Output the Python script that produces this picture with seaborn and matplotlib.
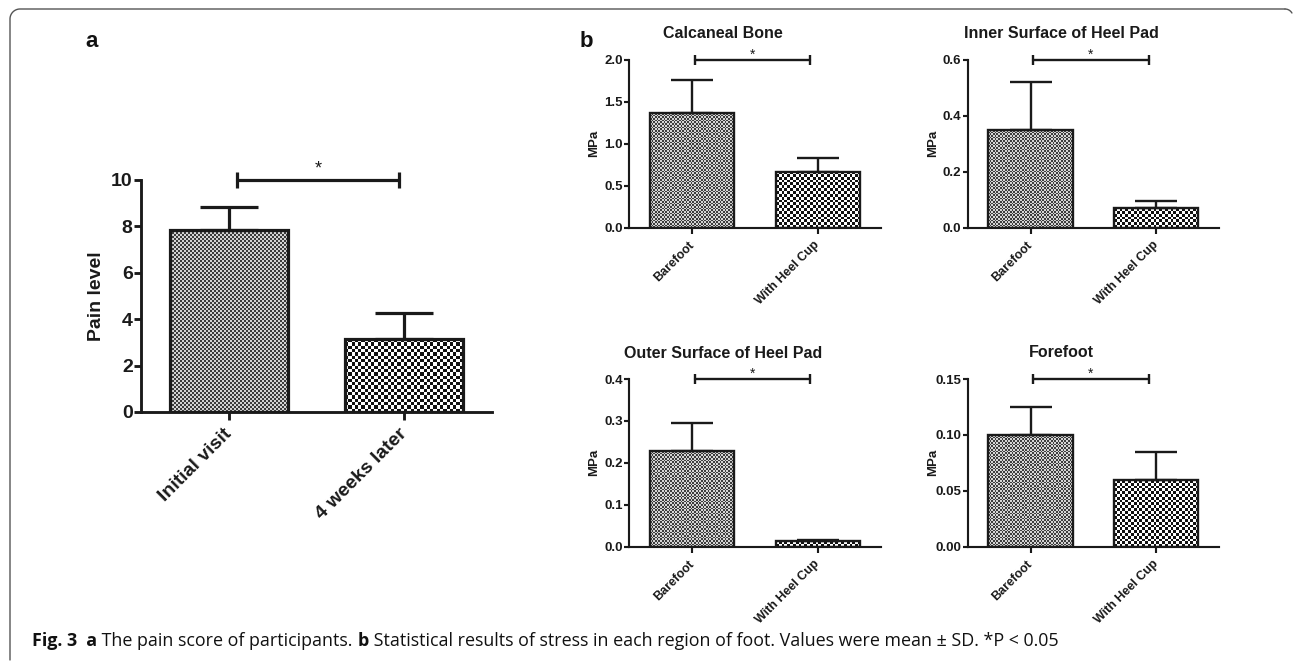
import numpy as np
import pandas as pd
import matplotlib
matplotlib.use("Agg")
import matplotlib.pyplot as plt
import seaborn as sns
from matplotlib.colors import ListedColormap
from matplotlib.lines import Line2D

# ---------------- data ----------------
pain_groups = ["Initial visit", "4 weeks later"]
pain_mean = [7.84, 3.13]
pain_sd = [1.01, 1.15]

conditions = ["Barefoot", "With Heel Cup"]
calcaneal_mean = [1.37, 0.67]
calcaneal_sd = [0.39, 0.16]
inner_mean = [0.35, 0.07]
inner_sd = [0.17, 0.027]
outer_mean = [0.228, 0.013]
outer_sd = [0.068, 0.002]
forefoot_mean = [0.0995, 0.0595]
forefoot_sd = [0.0255, 0.025]

region_titles = ["Calcaneal Bone", "Inner Surface of Heel Pad",
                 "Outer Surface of Heel Pad", "Forefoot"]
region_ticks = [[0.0, 0.5, 1.0, 1.5, 2.0],
                [0.0, 0.2, 0.4, 0.6],
                [0.0, 0.1, 0.2, 0.3, 0.4],
                [0.00, 0.05, 0.10, 0.15]]
region_fmt = ["{:.1f}", "{:.1f}", "{:.1f}", "{:.2f}"]
pain_ticks = [0, 2, 4, 6, 8, 10]

caption_parts = [("Fig. 3", "bold"), ("  a", "bold"),
                 (" The pain score of participants. ", "normal"),
                 ("b", "bold"),
                 (" Statistical results of stress in each region of foot. "
                  "Values were mean \u00b1 SD. *P < 0.05", "normal")]

# ---------------- style ----------------
sns.set_theme(style="white")
plt.rcParams["font.family"] = ["Liberation Sans", "DejaVu Sans"]

W, H = 1293, 662
fig = plt.figure(figsize=(W / 100, H / 100), dpi=100)


def px_axes(left, top, right, bottom):
    return fig.add_axes([left / W, 1 - bottom / H, (right - left) / W, (bottom - top) / H])


def checker_fill(ax, patch, cell_px, c1, c2):
    x0, y0 = patch.get_x(), patch.get_y()
    w, h = patch.get_width(), patch.get_height()
    (px0, py0), (px1, py1) = ax.transData.transform([(x0, y0), (x0 + w, y0 + h)])
    nx = max(1, int(round(abs(px1 - px0) / cell_px)))
    ny = max(1, int(round(abs(py1 - py0) / cell_px)))
    ii, jj = np.indices((ny, nx))
    board = (ii + jj) % 2
    im = ax.imshow(board, extent=(x0, x0 + w, y0, y0 + h),
                   cmap=ListedColormap([c1, c2]), interpolation="nearest",
                   aspect="auto", origin="lower", zorder=1.5)
    im.set_clip_path(patch)


def bar_panel(ax, cats, means, sds, ticks, fmt, lw, cap, tick_fs, xt_fs,
              cells, sig_x, sig_ms, star_fs, star_off, tlen_y, tlen_x):
    df = pd.DataFrame({"cat": cats, "val": means})
    sns.barplot(data=df, x="cat", y="val", ax=ax, color="white",
                edgecolor="#1a1a1a", linewidth=lw, width=0.67, errorbar=None)
    ax.set_xlim(-0.5, 1.5)
    ax.set_ylim(ticks[0], ticks[-1])
    fig.canvas.draw()
    styles = [("#3c3c3c", "#d4d4d4"), ("#111111", "#ffffff")]
    for patch, cell, st in zip(ax.patches, cells, styles):
        patch.set_facecolor("none")
        patch.set_zorder(3)
        checker_fill(ax, patch, cell, st[0], st[1])
    ax.errorbar(range(len(cats)), means, yerr=[np.zeros(len(sds)), sds],
                fmt="none", ecolor="#1a1a1a", elinewidth=lw, capsize=cap,
                capthick=lw, zorder=2)
    ax.set_xlim(-0.5, 1.5)
    ax.set_ylim(ticks[0], ticks[-1])
    ax.set_yticks(ticks)
    ax.set_yticklabels([fmt.format(t) for t in ticks], fontsize=tick_fs,
                       fontweight="bold", color="#1a1a1a")
    ax.set_xticks(range(len(cats)))
    ax.set_xticklabels(cats, rotation=45, ha="right", va="center",
                       rotation_mode="anchor", fontsize=xt_fs,
                       fontweight="bold", color="#1a1a1a")
    ax.set_xlabel("")
    for s in ["top", "right"]:
        ax.spines[s].set_visible(False)
    for s in ["left", "bottom"]:
        ax.spines[s].set_linewidth(lw * 0.9)
        ax.spines[s].set_color("#1a1a1a")
    ax.tick_params(axis="y", direction="out", length=tlen_y, width=lw * 0.9,
                   pad=1, left=True, colors="#1a1a1a")
    ax.tick_params(axis="x", direction="out", length=tlen_x, width=lw * 0.9,
                   pad=tlen_x + 2, bottom=True, colors="#1a1a1a")
    top = ticks[-1]
    ax.plot(sig_x, [top, top], color="#1a1a1a", lw=lw, marker="|",
            ms=sig_ms, mew=lw, clip_on=False, zorder=4)
    ax.annotate("*", xy=(np.mean(sig_x), top), xytext=(0, star_off),
                textcoords="offset points", ha="center", va="baseline",
                fontsize=star_fs, color="#1a1a1a", annotation_clip=False)


# ---------------- panel a ----------------
axa = px_axes(141, 180, 492, 412)
bar_panel(axa, pain_groups, pain_mean, pain_sd, pain_ticks, "{:d}",
          lw=2.3, cap=21, tick_fs=14, xt_fs=14, cells=(2, 3.3),
          sig_x=[0.045, 0.97], sig_ms=11.5, star_fs=13, star_off=5,
          tlen_y=5, tlen_x=6)
axa.set_ylabel("Pain level", fontsize=14, fontweight="bold", color="#1a1a1a")
axa.yaxis.set_label_coords(-0.103, 0.5)

# ---------------- panel b ----------------
positions = [(629, 60, 881, 227.7), (967.7, 60, 1219, 227.7),
             (629, 379, 881, 546.7), (967.7, 379, 1219, 546.7)]
means_all = [calcaneal_mean, inner_mean, outer_mean, forefoot_mean]
sds_all = [calcaneal_sd, inner_sd, outer_sd, forefoot_sd]
title_y = [34, 34, 354, 353]
for i, (pos, m, s) in enumerate(zip(positions, means_all, sds_all)):
    ax = px_axes(*pos)
    bar_panel(ax, conditions, m, s, region_ticks[i], region_fmt[i],
              lw=1.7, cap=15, tick_fs=9.5, xt_fs=9, cells=(1.7, 2.8),
              sig_x=[0.02, 0.94], sig_ms=7.5, star_fs=10, star_off=1,
              tlen_y=3.5, tlen_x=4.5)
    ax.set_ylabel("MPa", fontsize=9.5, fontweight="bold", color="#1a1a1a")
    ax.yaxis.set_label_coords(-0.115, 0.5)
    left, top, right, bottom = pos
    fig.text((left + 0.373 * (right - left)) / W, 1 - title_y[i] / H,
             region_titles[i], ha="center", va="center", fontsize=11.5,
             fontweight="bold", color="#1a1a1a")

# panel letters
fig.text(92 / W, 1 - 47 / H, "a", ha="center", va="baseline",
         fontsize=16, fontweight="bold", color="#111111")
fig.text(586 / W, 1 - 47 / H, "b", ha="center", va="baseline",
         fontsize=16, fontweight="bold", color="#111111")


# frame (top edge with rounded corners, left edge)
def fx(x):
    return x / W


def fy(y):
    return 1 - y / H


t = np.linspace(0, np.pi / 2, 20)
r = 10
cx, cy = 20, 19
corner_x = cx - r * np.cos(t)
corner_y = cy - r * np.sin(t)
frame_x = np.concatenate([[10], corner_x, [1285]])
frame_y = np.concatenate([[660], corner_y, [9]])
fig.add_artist(Line2D(fx(frame_x), fy(frame_y), transform=fig.transFigure,
                      color="#555555", lw=1.0))
t2 = np.linspace(0, np.pi / 3, 10)
fig.add_artist(Line2D(fx(1285 + 8 * np.sin(t2)), fy(17 - 8 * np.cos(t2)),
                      transform=fig.transFigure, color="#555555", lw=1.0))

# caption
cap_family = ["Open Sans", "DejaVu Sans"]
cap_fs = 12.9
base_y = 1 - 646 / H
cap_texts = []
for txt, wt in caption_parts:
    cap_texts.append(fig.text(32 / W, base_y, txt, fontsize=cap_fs, fontweight=wt,
                              family=cap_family, va="baseline", ha="left",
                              color="#111111"))
fig.canvas.draw()
rend = fig.canvas.get_renderer()
x_cursor = cap_texts[0].get_window_extent(rend).x1
for tt in cap_texts[1:]:
    tt.set_position((x_cursor / W, base_y))
    x_cursor = tt.get_window_extent(rend).x1

fig.savefig("out.png", dpi=100)
